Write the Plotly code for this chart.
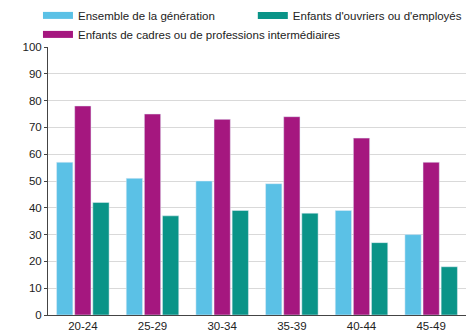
import plotly.graph_objects as go

categories = ["20-24", "25-29", "30-34", "35-39", "40-44", "45-49"]
ensemble = [57, 51, 50, 49, 39, 30]
cadres = [78, 75, 73, 74, 66, 57]
ouvriers = [42, 37, 39, 38, 27, 18]

names = {
    "ensemble": "Ensemble de la génération",
    "ouvriers": "Enfants d'ouvriers ou d'employés",
    "cadres": "Enfants de cadres ou de professions intermédiaires",
}
colors = {"ensemble": "#5bc1e6", "cadres": "#a5177f", "ouvriers": "#0a9488"}

fig = go.Figure()
for key, vals in [("ensemble", ensemble), ("cadres", cadres), ("ouvriers", ouvriers)]:
    fig.add_trace(go.Bar(x=categories, y=vals, name=names[key],
                         marker_color=colors[key], showlegend=False))

# legend entries (wide rectangular swatches)
for key, leg in [("ensemble", "legend"), ("cadres", "legend"), ("ouvriers", "legend2")]:
    fig.add_trace(go.Scatter(x=[None], y=[None], mode="lines", name=names[key],
                             line=dict(color=colors[key], width=7), legend=leg))

legend_common = dict(orientation="v", yanchor="top", xanchor="left",
                     font=dict(size=11.5), bgcolor="rgba(0,0,0,0)",
                     tracegroupgap=0, itemwidth=30)

fig.update_layout(
    width=474, height=335,
    margin=dict(l=48, r=8, t=47, b=20, autoexpand=False),
    paper_bgcolor="white", plot_bgcolor="white",
    font=dict(family="Liberation Sans, Arial, sans-serif", size=11.5, color="#222"),
    barmode="group", bargap=0.22, bargroupgap=0.1,
    showlegend=True,
    legend=dict(x=-0.024, y=1.172, **legend_common),
    legend2=dict(x=0.49, y=1.172, **legend_common),
    xaxis=dict(showline=True, linecolor="#444", linewidth=1, ticks="",
               tickfont=dict(size=11.5)),
    yaxis=dict(range=[0, 100], dtick=10, showgrid=True, gridcolor="#d9d9d9",
               showline=True, linecolor="#444", linewidth=1, ticks="outside",
               ticklen=3, tickcolor="#444", tickfont=dict(size=11.5), zeroline=False),
)

fig.write_html("out.html")
